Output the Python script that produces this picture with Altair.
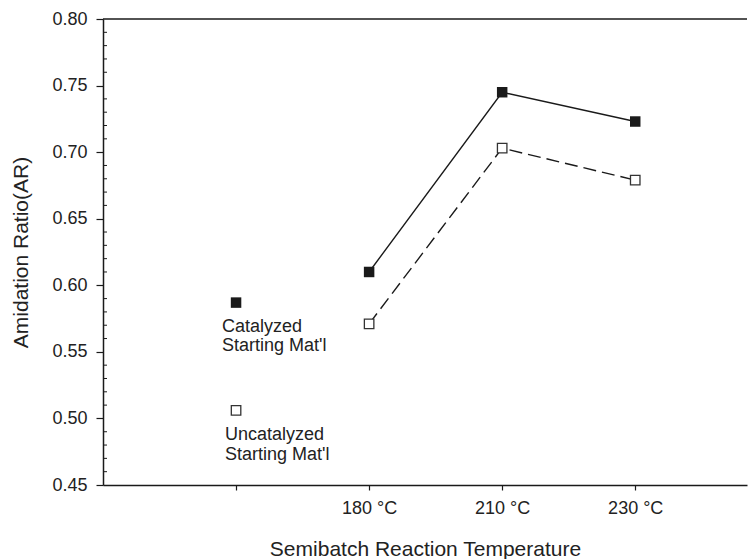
import altair as alt
import pandas as pd

# ---- data ----
tick_positions = [1, 2, 3, 4]
tick_labels = ["", "180 °C", "210 °C", "230 °C"]
temp_positions = [2, 3, 4]
catalyzed_ar = [0.610, 0.745, 0.723]
uncatalyzed_ar = [0.571, 0.703, 0.679]
start_position = 1
catalyzed_start_ar = 0.587
uncatalyzed_start_ar = 0.506
catalyzed_label = "Catalyzed\nStarting Mat'l"
uncatalyzed_label = "Uncatalyzed\nStarting Mat'l"
y_major = [0.45, 0.50, 0.55, 0.60, 0.65, 0.70, 0.75, 0.80]
y_minor = [round(0.45 + i * 0.01, 2) for i in range(1, 35) if i % 5 != 0]

FONT = "Liberation Sans"
INK = "#1a1a1a"

label_expr = " : ".join(
    f"datum.value == {p} ? '{l}'" for p, l in zip(tick_positions, tick_labels)
) + " : ''"

xenc = alt.X(
    "pos:Q",
    scale=alt.Scale(domain=[0, 4.84], nice=False, zero=False),
    axis=alt.Axis(
        values=tick_positions,
        labelExpr=label_expr,
        title="Semibatch Reaction Temperature",
        grid=False,
        tickSize=5,
        labelPadding=9,
        titlePadding=21,
    ),
)
yenc = alt.Y(
    "ar:Q",
    scale=alt.Scale(domain=[0.45, 0.80], nice=False, zero=False),
    axis=alt.Axis(
        values=y_major,
        format=".2f",
        title="Amidation Ratio(AR)",
        grid=False,
        tickSize=7,
        labelPadding=9,
        titlePadding=20,
    ),
)

cat_df = pd.DataFrame({"pos": temp_positions, "ar": catalyzed_ar})
unc_df = pd.DataFrame({"pos": temp_positions, "ar": uncatalyzed_ar})
cat_start_df = pd.DataFrame({"pos": [start_position], "ar": [catalyzed_start_ar], "t": [catalyzed_label]})
unc_start_df = pd.DataFrame({"pos": [start_position], "ar": [uncatalyzed_start_ar], "t": [uncatalyzed_label]})
minor_df = pd.DataFrame({"ar": y_minor})

top_border = alt.Chart(minor_df.head(1)).mark_rule(color=INK, strokeWidth=1.5).encode(
    y=alt.datum(0.80, scale=alt.Scale(domain=[0.45, 0.80], nice=False, zero=False))
)

minor_ticks = alt.Chart(minor_df).mark_rule(color=INK, strokeWidth=1).encode(
    x=alt.value(0), x2=alt.value(4), y=yenc
)

cat_line = alt.Chart(cat_df).mark_line(color=INK, strokeWidth=1.4).encode(x=xenc, y=yenc)
unc_line = alt.Chart(unc_df).mark_line(color=INK, strokeWidth=1.4, strokeDash=[13, 6]).encode(x=xenc, y=yenc)

filled_pts = alt.Chart(pd.concat([cat_df, cat_start_df[["pos", "ar"]]])).mark_point(
    shape="square", filled=True, color=INK, size=110, opacity=1
).encode(x=xenc, y=yenc)

hollow_pts = alt.Chart(pd.concat([unc_df, unc_start_df[["pos", "ar"]]])).mark_point(
    shape="square", filled=True, fill="white", stroke="#333333", strokeWidth=1.3, size=90, opacity=1
).encode(x=xenc, y=yenc)

cat_text = alt.Chart(cat_start_df).mark_text(
    align="left", baseline="top", lineBreak="\n", lineHeight=19.5,
    font=FONT, fontSize=18, color="#222222", dx=-14, dy=15
).encode(x=xenc, y=yenc, text="t:N")

unc_text = alt.Chart(unc_start_df).mark_text(
    align="left", baseline="top", lineBreak="\n", lineHeight=19.5,
    font=FONT, fontSize=18, color="#222222", dx=-11, dy=16
).encode(x=xenc, y=yenc, text="t:N")

chart = (
    alt.layer(minor_ticks, top_border, cat_line, unc_line, filled_pts, hollow_pts, cat_text, unc_text)
    .properties(width=644, height=466, padding={"left": 2, "top": 2, "right": 0, "bottom": 0})
    .configure_view(stroke=None)
    .configure_axis(
        domainColor=INK, domainWidth=1.5, tickColor=INK, tickWidth=1.2,
        labelFont=FONT, labelFontSize=18, labelColor="#222222",
        titleFont=FONT, titleFontSize=21, titleColor="#222222", titleFontWeight="normal",
    )
    .configure_axisY(labelAlign="right")
)

chart.save("out.html", embed_options={"renderer": "svg", "actions": False})
